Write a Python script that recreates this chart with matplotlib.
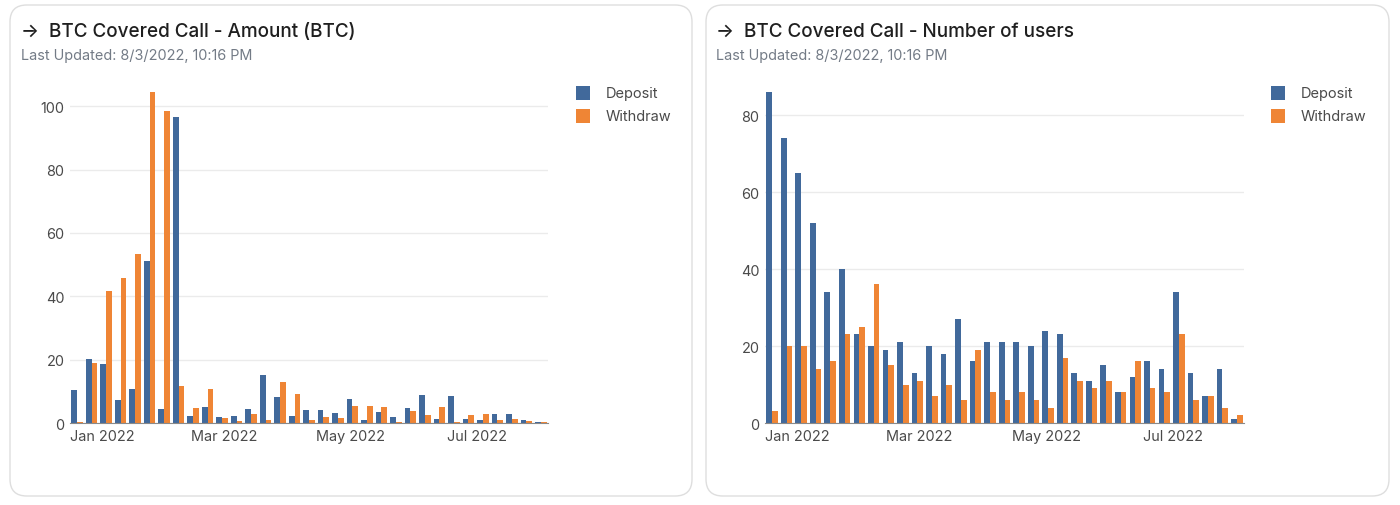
import matplotlib
matplotlib.use("Agg")
import matplotlib.pyplot as plt
import matplotlib.dates as mdates
from matplotlib.patches import FancyBboxPatch, Rectangle
import numpy as np
import pandas as pd

plt.rcParams['font.family'] = ['Inter', 'DejaVu Sans']

# ---------------- data ----------------
weeks = ["2021-12-20", "2021-12-27", "2022-01-03", "2022-01-10", "2022-01-17",
         "2022-01-24", "2022-01-31", "2022-02-07", "2022-02-14", "2022-02-21",
         "2022-02-28", "2022-03-07", "2022-03-14", "2022-03-21", "2022-03-28",
         "2022-04-04", "2022-04-11", "2022-04-18", "2022-04-25", "2022-05-02",
         "2022-05-09", "2022-05-16", "2022-05-23", "2022-05-30", "2022-06-06",
         "2022-06-13", "2022-06-20", "2022-06-27", "2022-07-04", "2022-07-11",
         "2022-07-18", "2022-07-25", "2022-08-01"]

deposit_amount = [10.3, 20.3, 18.7, 7.2, 10.6, 51.0, 4.3, 96.6, 2.3, 5.2, 2.0,
                  2.3, 4.3, 15.2, 8.1, 2.2, 4.0, 4.0, 3.2, 7.5, 1.0, 3.5, 2.0,
                  4.6, 8.9, 1.3, 8.6, 1.4, 1.0, 2.8, 2.7, 1.0, 0.2]
withdraw_amount = [0.3, 19.0, 41.8, 45.9, 53.2, 104.5, 98.5, 11.7, 4.6, 10.8, 1.5,
                   0.7, 2.8, 1.0, 12.9, 9.3, 0.8, 1.9, 1.5, 5.5, 5.4, 5.2, 0.3,
                   3.7, 2.4, 5.0, 0.3, 2.4, 2.7, 1.0, 1.4, 0.7, 0.3]

deposit_users = [86, 74, 65, 52, 34, 40, 23, 20, 19, 21, 13, 20, 18, 27, 16, 21, 21,
                 21, 20, 24, 23, 13, 11, 15, 8, 12, 16, 14, 34, 13, 7, 14, 1]
withdraw_users = [3, 20, 20, 14, 16, 23, 25, 36, 15, 10, 11, 7, 10, 6, 19, 8, 6,
                  8, 6, 4, 17, 11, 9, 11, 8, 16, 9, 8, 23, 6, 7, 4, 2]

series_names = ["Deposit", "Withdraw"]
titles = ["\u2192  BTC Covered Call - Amount (BTC)", "\u2192  BTC Covered Call - Number of users"]
subtitle = "Last Updated: 8/3/2022, 10:16 PM"
yticks_left = [0, 20, 40, 60, 80, 100]
yticks_right = [0, 20, 40, 60, 80]
xtick_dates = ["2022-01-01", "2022-03-01", "2022-05-01", "2022-07-01"]
xtick_labels = ["Jan 2022", "Mar 2022", "May 2022", "Jul 2022"]

BLUE = "#41699b"
ORANGE = "#ef8535"

W, H = 1400, 506
fig = plt.figure(figsize=(W / 100, H / 100), dpi=100)
fig.patch.set_facecolor("white")


def fx(x):
    return x / W


def fy(y):
    return 1 - y / H


# cards
for x0, x1 in [(10, 692), (706, 1389)]:
    card = FancyBboxPatch((fx(x0), fy(497)), fx(x1 - x0), (497 - 6) / H,
                          boxstyle="round,pad=0,rounding_size=0.012",
                          transform=fig.transFigure, facecolor="white",
                          edgecolor="#dedede", linewidth=1.0, zorder=0,
                          mutation_aspect=W / H)
    fig.add_artist(card)

dates = mdates.datestr2num(weeks)
bw = 2.75


def draw(ax, dep, wd, yticks, ymax):
    ax.bar(dates - bw / 2, dep, width=bw, color=BLUE, zorder=3)
    ax.bar(dates + bw / 2, wd, width=bw, color=ORANGE, zorder=3)
    ax.set_xlim(dates[0] - 3.4, dates[-1] + 3.4)
    ax.set_ylim(0, ymax)
    ax.set_yticks(yticks)
    ax.set_yticklabels([str(t) for t in yticks])
    ax.set_xticks(mdates.datestr2num(xtick_dates))
    ax.set_xticklabels(xtick_labels)
    ax.grid(axis="y", color="#ebebeb", linewidth=1.0, zorder=0)
    ax.set_axisbelow(True)
    for s in ["top", "right", "left"]:
        ax.spines[s].set_visible(False)
    ax.spines["bottom"].set_color("#8a8a8a")
    ax.spines["bottom"].set_linewidth(0.8)
    ax.spines["bottom"].set_zorder(4)
    ax.tick_params(axis="both", length=0, labelsize=10.4, labelcolor="#4a4a4a")
    ax.tick_params(axis="y", pad=4)
    ax.tick_params(axis="x", pad=4)
    ax.set_facecolor("none")


axL = fig.add_axes([fx(70), fy(424), fx(548 - 70), (424 - 93) / H])
draw(axL, deposit_amount, withdraw_amount, yticks_left, 104.5)
axR = fig.add_axes([fx(765), fy(424), fx(1244 - 765), (424 - 93) / H])
draw(axR, deposit_users, withdraw_users, yticks_right, 86)

# titles and legends
for (tx, lx), title in zip([(21, 576), (716, 1271)], titles):
    fig.text(fx(tx), fy(32), title, fontsize=13.6, color="#1f1f1f",
             va="center", ha="left", fontweight="medium")
    fig.text(fx(tx), fy(56), subtitle, fontsize=10.4, color="#737b86",
             va="center", ha="left")
    for i, (name, col) in enumerate(zip(series_names, [BLUE, ORANGE])):
        yc = 94 + i * 23
        fig.add_artist(Rectangle((fx(lx), fy(yc + 7)), fx(14), 14 / H,
                                 transform=fig.transFigure, facecolor=col,
                                 edgecolor="none"))
        fig.text(fx(lx + 30), fy(yc), name, fontsize=10.5, color="#4a4a4a",
                 va="center", ha="left")

fig.savefig("out.png", dpi=100, facecolor="white")
